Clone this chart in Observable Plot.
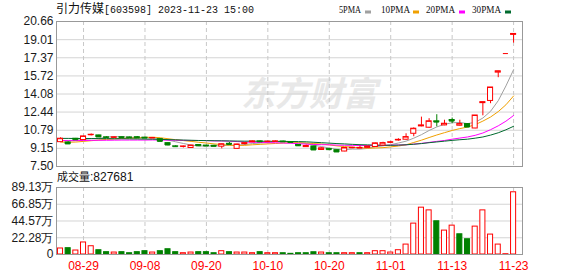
<!DOCTYPE html>
<html><head><meta charset="utf-8">
<script src="https://cdn.jsdelivr.net/npm/d3@7"></script>
<script src="https://cdn.jsdelivr.net/npm/@observablehq/plot@0.6"></script>
<style>
html,body{margin:0;padding:0;background:#fff;}
body{width:578px;height:276px;position:relative;overflow:hidden;}
#overlay,#price,#vol{position:absolute;left:0;}
#overlay{top:0;}
#price{top:0;}
#vol{top:170px;}
</style></head><body>
<svg id="overlay" width="578" height="276"></svg>
<div id="price"></div>
<div id="vol"></div>
<script>
// ---------- data ----------
const stockName = "引力传媒";
const stockInfo = "[603598] 2023-11-23 15:00";
const volLabel = "成交量";
const lastVolume = 827681;
const watermark = "东方财富";

const dates = ["08-24","08-25","08-28","08-29","08-30","08-31","09-01","09-04","09-05","09-06",
"09-07","09-08","09-11","09-12","09-13","09-14","09-15","09-18","09-19","09-20",
"09-21","09-22","09-25","09-26","09-27","09-28","10-09","10-10","10-11","10-12",
"10-13","10-16","10-17","10-18","10-19","10-20","10-23","10-24","10-25","10-26",
"10-27","10-30","10-31","11-01","11-02","11-03","11-06","11-07","11-08","11-09",
"11-10","11-13","11-14","11-15","11-16","11-17","11-20","11-21","11-22","11-23"];
const tickLabels = ["08-29","09-08","09-20","10-10","10-20","11-01","11-13","11-23"];

const open = [9.71,9.68,10.02,9.90,10.36,10.32,10.15,10.12,10.16,10.14,
10.16,10.12,10.08,9.98,9.62,9.33,9.30,9.18,9.45,9.40,
9.38,9.30,9.56,9.10,9.53,9.70,9.78,9.74,9.75,9.77,
9.72,9.45,9.26,9.32,9.00,9.08,8.98,8.86,9.18,9.15,
9.19,9.27,9.40,9.66,9.88,9.93,10.47,11.14,11.02,11.60,
11.23,11.72,11.20,11.35,10.95,13.25,13.45,16.02,17.75,19.45];
const high = [10.10,9.75,10.05,10.25,10.45,10.34,10.20,10.18,10.18,10.17,
10.22,10.15,10.12,10.00,9.65,9.38,9.35,9.42,9.48,9.44,
9.42,9.54,9.68,9.52,9.68,9.82,9.82,9.80,9.82,9.80,
9.75,9.48,9.44,9.34,9.20,9.12,9.00,9.20,9.24,9.35,
9.35,9.62,9.70,9.78,10.02,10.47,11.00,11.98,11.84,12.20,
11.70,11.90,11.70,11.38,12.13,13.34,14.67,16.14,17.75,19.53];
const low = [9.68,9.50,9.90,9.86,10.28,10.14,10.06,10.08,10.10,10.08,
10.08,10.05,10.04,9.75,9.38,9.24,9.18,9.16,9.35,9.33,
9.30,9.10,9.44,9.06,9.45,9.66,9.70,9.70,9.72,9.70,
9.66,9.33,9.24,8.97,8.97,8.98,8.78,8.84,9.12,9.14,
9.17,9.25,9.38,9.60,9.80,9.90,10.20,11.10,10.98,11.10,
11.20,11.38,11.18,11.05,10.93,12.10,13.20,15.56,17.75,18.70];
const close = [10.02,9.55,9.93,10.23,10.38,10.18,10.12,10.15,10.13,10.11,
10.10,10.08,10.09,9.78,9.45,9.30,9.32,9.40,9.38,9.36,
9.33,9.52,9.50,9.50,9.62,9.78,9.74,9.76,9.78,9.74,
9.68,9.38,9.36,9.00,9.15,9.03,8.82,9.18,9.20,9.19,
9.30,9.60,9.62,9.70,9.92,10.17,10.93,11.23,11.60,11.53,
11.38,11.62,11.35,11.08,12.13,13.34,14.67,16.14,17.75,19.53];
// volume in 万 shares
const volume = [8.0,8.4,5.3,16.0,11.0,5.7,3.1,2.6,3.1,1.7,
3.1,4.4,2.6,4.4,7.0,3.1,1.7,2.6,3.1,3.1,
1.7,4.4,3.1,2.6,2.6,1.7,3.1,1.7,1.7,1.7,
0.9,1.7,1.7,3.0,2.6,1.7,1.7,1.7,1.7,1.7,
1.7,4.4,4.4,2.6,5.7,13.2,41.1,62.3,58.7,44.2,
31.8,38.4,26.9,20.3,37.1,58.7,26.5,13.2,0.4,82.7681];
// 1 = up day (red bar), 0 = down day (green bar)
const volUp = [1,0,1,1,1,0,0,1,0,0, 0,0,1,0,0,0,1,1,0,0,
0,1,0,1,1,1,0,1,1,0, 0,0,0,0,1,0,0,1,1,0,
1,1,1,1,1,1,1,1,1,0, 1,1,0,0,1,1,1,1,1,1];

const ma5 = [9.88,9.82,9.86,9.95,10.02,10.05,10.17,10.21,10.19,10.14,
10.12,10.11,10.10,10.03,9.90,9.74,9.59,9.45,9.37,9.35,
9.36,9.40,9.42,9.44,9.49,9.58,9.63,9.68,9.74,9.76,
9.74,9.67,9.59,9.43,9.31,9.18,9.07,9.04,9.08,9.08,
9.14,9.29,9.38,9.48,9.63,9.80,10.07,10.39,10.77,11.09,
11.33,11.47,11.50,11.39,11.51,11.90,12.51,13.47,14.81,16.29];
const ma10 = [9.72,9.70,9.72,9.78,9.84,9.90,9.96,10.00,10.04,10.08,
10.09,10.14,10.16,10.11,10.02,9.93,9.85,9.78,9.70,9.63,
9.55,9.49,9.43,9.41,9.42,9.47,9.51,9.55,9.59,9.63,
9.66,9.65,9.63,9.58,9.54,9.46,9.37,9.31,9.25,9.20,
9.16,9.18,9.21,9.28,9.36,9.47,9.68,9.89,10.13,10.36,
10.57,10.77,10.94,11.08,11.30,11.62,11.99,12.48,13.10,13.90];
const ma20 = [9.86,9.85,9.85,9.86,9.87,9.88,9.88,9.89,9.90,9.90,
9.90,9.90,9.91,9.90,9.89,9.88,9.87,9.86,9.86,9.85,
9.82,9.82,9.80,9.76,9.72,9.70,9.68,9.66,9.65,9.63,
9.61,9.57,9.53,9.50,9.48,9.47,9.44,9.43,9.42,9.41,
9.41,9.42,9.42,9.43,9.45,9.47,9.53,9.60,9.69,9.78,
9.86,9.98,10.08,10.18,10.33,10.54,10.84,11.19,11.61,12.13];
const ma30 = [10.05,10.05,10.04,10.04,10.04,10.03,10.03,10.02,10.02,10.01,
10.00,9.99,9.98,9.96,9.94,9.92,9.90,9.88,9.86,9.85,
9.84,9.83,9.82,9.81,9.80,9.80,9.79,9.79,9.78,9.78,
9.77,9.76,9.74,9.70,9.66,9.62,9.58,9.55,9.51,9.48,
9.46,9.44,9.43,9.42,9.44,9.47,9.52,9.58,9.66,9.73,
9.80,9.87,9.93,9.98,10.07,10.18,10.35,10.56,10.83,11.15];

const maNames = ["5PMA","10PMA","20PMA","30PMA"];
const priceTicks = [7.50,9.15,10.79,12.44,14.08,15.72,17.37,19.01,20.66];
const volTicks = [0,22.28,44.57,66.85,89.13];

// ---------- styling ----------
const RED = "#ff0000", GREEN = "#008000";
const maColors = ["#a0a0a0","#f0a000","#ff00ff","#006b2e"];
const GRID = "#d4d4d4", VGRID = "#c8c8c8", FRAME = "#999999";
const BW = 0.33;
const xScale = {type:"linear", domain:[-0.52, 60.16]};
const baseStyle = {background:"transparent", fontFamily:"'Liberation Sans', Arial, sans-serif", fontSize:"12px", overflow:"visible"};

const rows = dates.map((d,i) => ({i, date:d, o:open[i], h:high[i], l:low[i], c:close[i], v:volume[i], vUp:volUp[i]===1, up: close[i] >= open[i]}));
const tickIdx = tickLabels.map(t => dates.indexOf(t));
const maData = [ma5, ma10, ma20, ma30];

const price = Plot.plot({
  width:578, height:170, marginLeft:56, marginRight:56, marginTop:21, marginBottom:4,
  x: {...xScale, axis:null},
  y: {domain:[7.50,20.66], axis:null},
  style: baseStyle,
  marks: [
    Plot.ruleY(priceTicks, {stroke:GRID}),
    Plot.ruleX(tickIdx, {stroke:VGRID, strokeDasharray:"4,3"}),
    Plot.axisY({ticks:priceTicks, tickSize:0, tickPadding:3, tickFormat:d=>d.toFixed(2), fill:"#1a1a1a", label:null}),
    ...maData.map((arr,k) => Plot.lineY(arr, {x:(d,i)=>i, y:d=>d, stroke:maColors[k], strokeWidth:1})),
    Plot.ruleX(rows, {x:"i", y1:"l", y2:"h", stroke:d=>d.up?RED:GREEN}),
    Plot.rect(rows, {x1:d=>d.i-BW, x2:d=>d.i+BW, y1:d=>Math.min(d.o,d.c), y2:d=>Math.max(d.o,d.c),
      fill:d=>d.up?"#ffffff":GREEN, stroke:d=>d.up?RED:GREEN, strokeWidth:1}),
    Plot.ruleY(rows, {x1:d=>d.i-BW, x2:d=>d.i+BW, y:"c", stroke:d=>d.up?RED:GREEN}),
    Plot.frame({stroke:FRAME})
  ]
});
document.getElementById("price").appendChild(price);

const vol = Plot.plot({
  width:578, height:106, marginLeft:56, marginRight:56, marginTop:17, marginBottom:22,
  x: xScale,
  y: {domain:[0,89.13]},
  style: baseStyle,
  marks: [
    Plot.ruleY(volTicks, {stroke:GRID}),
    Plot.ruleX(tickIdx, {stroke:VGRID, strokeDasharray:"4,3"}),
    Plot.axisY({ticks:volTicks, tickSize:0, tickPadding:3, tickFormat:d=>d===0?"0":d.toFixed(2)+"万", fill:"#1a1a1a", label:null}),
    Plot.axisX({ticks:tickIdx, tickSize:0, tickPadding:7, tickFormat:i=>dates[i], fill:RED, label:null}),
    Plot.rect(rows, {x1:d=>d.i-BW, x2:d=>d.i+BW, y1:d=>0, y2:"v",
      fill:d=>d.vUp?"#ffffff":GREEN, stroke:d=>d.vUp?RED:GREEN, strokeWidth:1}),
    Plot.frame({stroke:FRAME})
  ]
});
document.getElementById("vol").appendChild(vol);

// ---------- titles, legend, watermark ----------
const ov = d3.select("#overlay");
ov.append("text").attr("x",309).attr("y",106).attr("text-anchor","middle")
  .attr("font-family","'Noto Sans CJK SC', sans-serif").attr("font-weight","bold").attr("font-style","italic")
  .attr("font-size",34).attr("fill","#e8e8e8").text(watermark);

const t = ov.append("text").attr("x",56).attr("y",13).attr("fill","#111");
t.append("tspan").attr("font-family","'Noto Sans CJK SC', sans-serif").attr("font-size",12).text(stockName);
t.append("tspan").attr("font-family","'Liberation Mono', monospace").attr("font-size",10).text(stockInfo);

const legX = [339, 381, 426, 472];
const legW = [22, 29, 29, 29];
const boxX = [365, 413, 459, 505];
maNames.forEach((n,k) => {
  ov.append("text").attr("x",legX[k]).attr("y",12.5)
    .attr("font-family","'Liberation Serif', serif").attr("font-size",11)
    .attr("textLength",legW[k]).attr("lengthAdjust","spacingAndGlyphs")
    .attr("fill","#111").text(n);
  ov.append("rect").attr("x",boxX[k]).attr("y",10.5).attr("width",6).attr("height",3).attr("fill",maColors[k]);
});

const vt = ov.append("text").attr("x",57).attr("y",181).attr("fill","#111");
vt.append("tspan").attr("font-family","'Noto Sans CJK SC', sans-serif").attr("font-size",11).text(volLabel);
vt.append("tspan").attr("font-family","'Liberation Sans', Arial, sans-serif").attr("font-size",12).text(":" + lastVolume);
</script>
</body></html>
